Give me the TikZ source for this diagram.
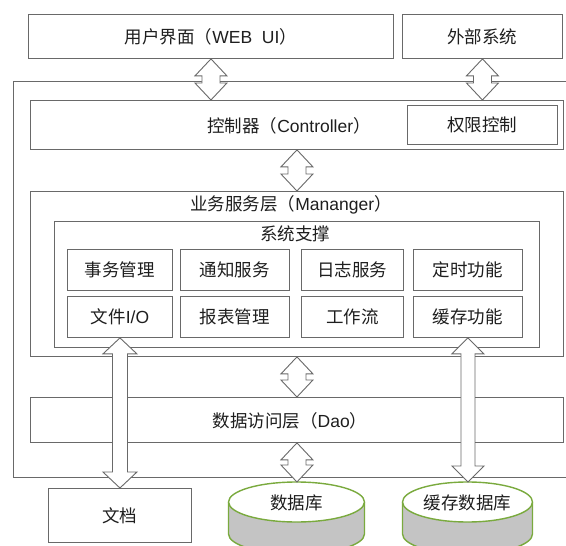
\documentclass[tikz,border=0pt]{standalone}
\usepackage{fontspec}
\setmainfont{Noto Sans CJK SC}
\newfontfamily\lat{Liberation Sans}
\usetikzlibrary{calc}
\definecolor{edge}{RGB}{105,105,105}
\definecolor{dbgreen}{RGB}{122,170,62}
\definecolor{dbgray}{RGB}{196,196,196}
\definecolor{txt}{RGB}{30,30,30}
\tikzset{
  box/.style={draw=edge, line width=0.9pt, fill=white, inner sep=0pt, anchor=north west,
    font=\fontsize{17.5}{20}\selectfont, text=txt},
  lbl/.style={font=\fontsize{17.5}{20}\selectfont, text=txt, inner sep=0pt},
  blockarrow/.style={draw=edge, fill=white, line width=0.9pt, line join=miter},
  cylbody/.style={fill=dbgray},
  cylline/.style={draw=dbgreen, line width=1.4pt},
}
% vertical double-headed block arrow: #1 top, #2 bottom, #3 head half width, #4 shaft half width, #5 head length
\newcommand\vdarrow[5]{%
  \path[blockarrow] let \p1=(#1), \p2=(#2) in
    (\x1,\y1) -- (\x1+#3,\y1-#5) -- (\x1+#4,\y1-#5) -- (\x1+#4,\y2+#5) -- (\x1+#3,\y2+#5)
    -- (\x1,\y2) -- (\x1-#3,\y2+#5) -- (\x1-#4,\y2+#5) -- (\x1-#4,\y1-#5) -- (\x1-#3,\y1-#5) -- cycle;}
% cylinder: #1 centre x, #2 x radius
\newcommand\dbcyl[2]{%
  \path[cylbody] (#1-#2,502) -- (#1-#2,534) arc[start angle=180, end angle=360, x radius=#2 pt, y radius=20pt] -- (#1+#2,502) -- cycle;
  \path[cylline] (#1-#2,502) -- (#1-#2,534) arc[start angle=180, end angle=360, x radius=#2 pt, y radius=20pt] -- (#1+#2,502);
  \path[cylline, fill=white] (#1,502) ellipse[x radius=#2 pt, y radius=20pt];}
\begin{document}
\begin{tikzpicture}[x=1pt, y=-1pt]
\useasboundingbox (0,0) rectangle (566,546);
\clip (0,0) rectangle (566,546);
\fill[white] (0,0) rectangle (566,546);

% outer frame (right side outside the picture)
\draw[edge, line width=0.9pt] (570,81) -- (13,81) -- (13,477) -- (570,477);

% top
\node[box, minimum width=365pt, minimum height=44pt] (webui) at (28,14) {用户界面（{\lat WEB\ \ UI}）};
\node[box, minimum width=160pt, minimum height=44pt] (ext) at (402,14) {外部系统};

% controller
\node[box, minimum width=533pt, minimum height=49pt] (ctrl) at (30,100) {};
\node[lbl] (ctrllbl) at (289,126) {控制器（{\lat Controller}）};
\node[box, minimum width=150pt, minimum height=39pt] (auth) at (407,105) {权限控制};

% manager
\node[box, minimum width=533pt, minimum height=165pt] (mgr) at (30,191) {};
\node[lbl] (mgrlbl) at (291,205) {业务服务层（{\lat Mananger}）};
\node[box, minimum width=485pt, minimum height=126pt] (sys) at (54,221) {};
\node[lbl] (syslbl) at (295,234) {系统支撑};

\node[box, minimum width=105pt, minimum height=41pt] (a1) at (67,249) {事务管理};
\node[box, minimum width=109pt, minimum height=41pt] (a2) at (180,249) {通知服务};
\node[box, minimum width=102pt, minimum height=41pt] (a3) at (301,249) {日志服务};
\node[box, minimum width=109pt, minimum height=41pt] (a4) at (413,249) {定时功能};
\node[box, minimum width=105pt, minimum height=41pt] (b1) at (67,296) {文件{\lat I/O}};
\node[box, minimum width=109pt, minimum height=41pt] (b2) at (180,296) {报表管理};
\node[box, minimum width=102pt, minimum height=41pt] (b3) at (301,296) {工作流};
\node[box, minimum width=109pt, minimum height=41pt] (b4) at (413,296) {缓存功能};

% dao
\node[box, minimum width=533pt, minimum height=45pt] (dao) at (30,397) {};
\node[lbl] (daolbl) at (290,421) {数据访问层（{\lat Dao}）};

% bottom
\node[box, minimum width=143pt, minimum height=54pt] (doc) at (48,488) {文档};
\dbcyl{296.5}{68}
\coordinate (dbtop) at (296.5,482);
\node[lbl] (db) at (296.5,503) {数据库};
\dbcyl{467.5}{65}
\coordinate (cachetop) at (467.5,482);
\node[lbl] (cache) at (467.5,503) {缓存数据库};

% block arrows
\vdarrow{webui.south}{webui.south |- ctrl.north}{16pt}{9pt}{17pt}
\vdarrow{ext.south}{ext.south |- ctrl.north}{16pt}{9pt}{17pt}
\vdarrow{ctrl.south}{mgr.north}{16pt}{9pt}{17pt}
\vdarrow{mgr.south}{dao.north}{16pt}{9pt}{17pt}
\vdarrow{dao.south}{dbtop}{16pt}{9pt}{17pt}
\vdarrow{b1.south}{doc.north}{17pt}{7.5pt}{16pt}
\vdarrow{b4.south}{cachetop}{16pt}{7pt}{16pt}
\end{tikzpicture}
\end{document}
